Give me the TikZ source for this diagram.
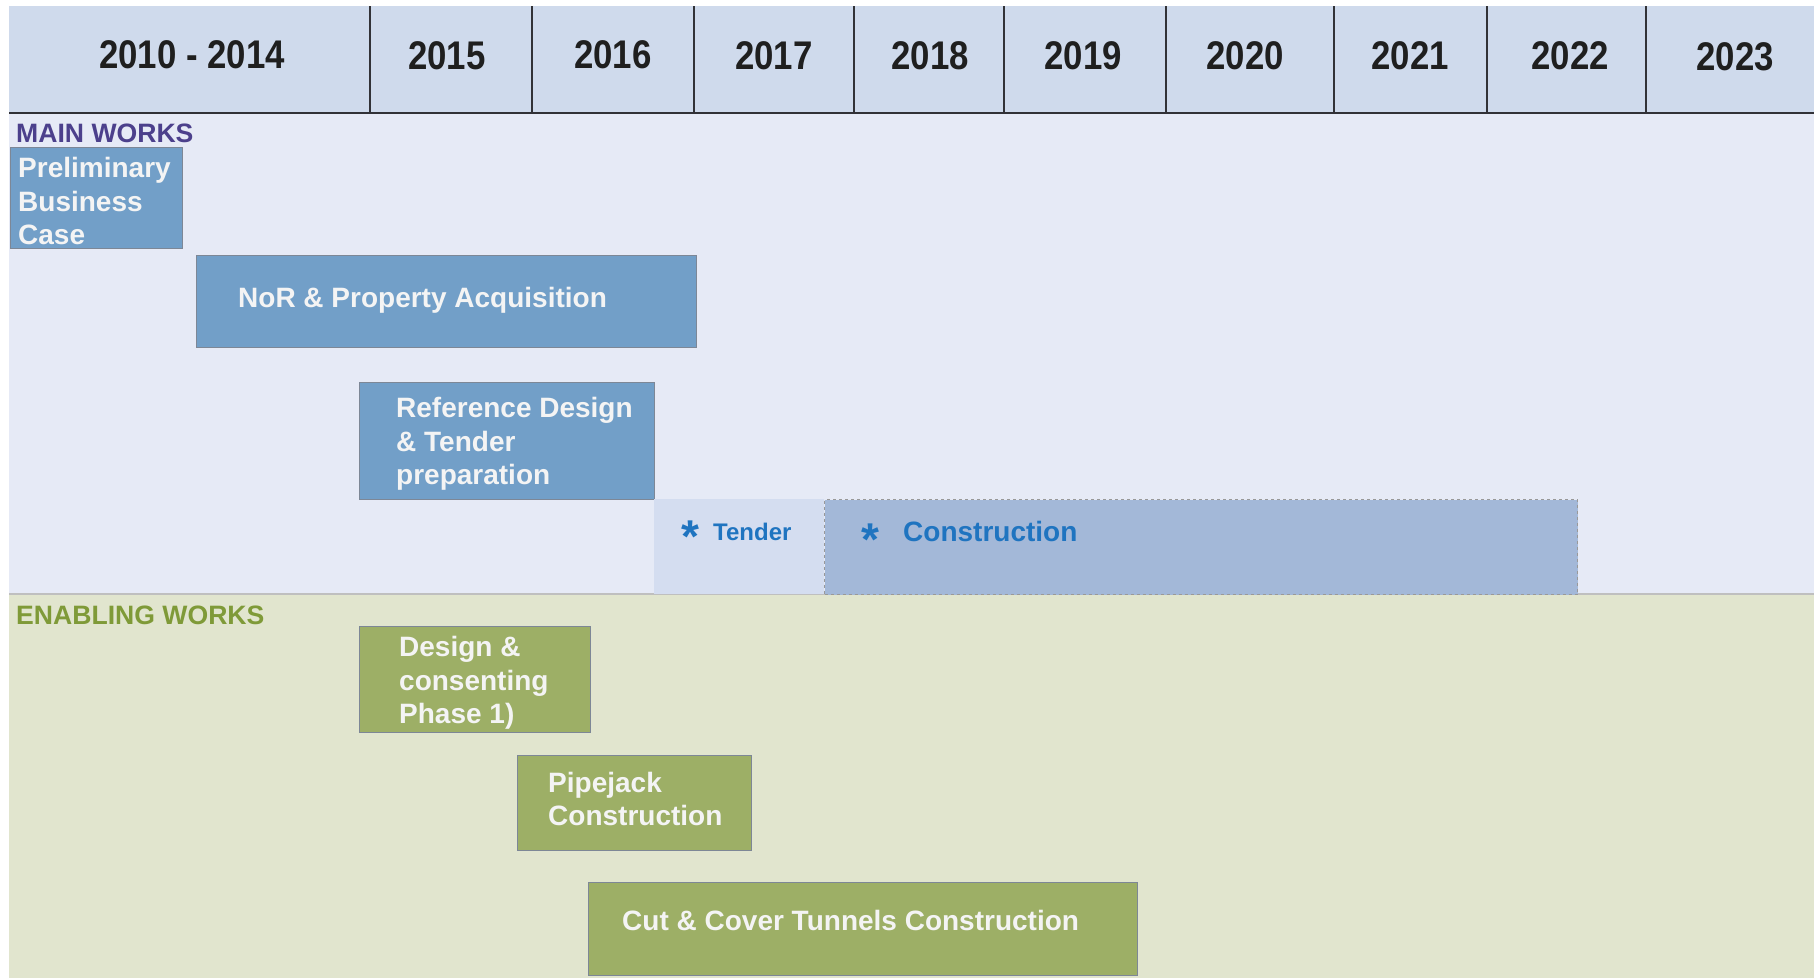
\documentclass[tikz,border=0pt]{standalone}
\usepackage{fontspec}
\setmainfont{Liberation Sans}
\newfontfamily\yearfont{Liberation Sans}[FakeStretch=0.87]
\definecolor{hdr}{RGB}{207,218,236}
\definecolor{hdrline}{RGB}{50,50,55}
\definecolor{mainbg}{RGB}{230,234,246}
\definecolor{enabg}{RGB}{225,229,206}
\definecolor{bluebox}{RGB}{114,159,200}
\definecolor{greenbox}{RGB}{157,175,102}
\definecolor{tenderbg}{RGB}{212,221,240}
\definecolor{constrbg}{RGB}{163,184,216}
\definecolor{boxline}{RGB}{125,135,150}
\definecolor{mainlbl}{RGB}{76,64,140}
\definecolor{enalbl}{RGB}{127,154,56}
\definecolor{tendertxt}{RGB}{31,116,192}
\definecolor{boxtxt}{RGB}{244,244,244}
\tikzset{
  year/.style={font=\yearfont\bfseries\fontsize{40}{40}\selectfont, text=black!88, inner sep=0pt},
  section/.style={font=\bfseries\fontsize{26.6}{30}\selectfont, inner sep=0pt, anchor=west},
  bar/.style={draw=boxline, line width=1.3pt, inner sep=0pt, anchor=north west},
  bluebar/.style={bar, fill=bluebox},
  greenbar/.style={bar, fill=greenbox},
  bartext/.style={font=\bfseries\fontsize{28}{33.6}\selectfont, text=boxtxt, align=left, inner sep=0pt, anchor=west},
  tendertext/.style={font=\bfseries\fontsize{24}{28}\selectfont, text=tendertxt, inner sep=0pt, anchor=base west},
  constrtext/.style={font=\bfseries\fontsize{28}{33}\selectfont, text=tendertxt, inner sep=0pt, anchor=base west}
}
\newcommand{\lowstar}[1]{\llap{\raisebox{-0.5em}{\fontsize{46}{46}\selectfont *}\hspace{#1}}}
\begin{document}
\begin{tikzpicture}[x=1pt,y=-1pt]
\useasboundingbox (0,0) rectangle (1814,978);
\fill[white] (0,0) rectangle (1814,978);
% bands
\fill[mainbg] (9,113) rectangle (1814,594);
\fill[enabg] (9,594) rectangle (1814,978);
\draw[line width=1.3pt, black!25] (9,594) -- (1814,594);
% header
\fill[hdr] (9,6) rectangle (1814,113);
\foreach \x in {370,532,694,854,1004,1166,1334,1487,1646}
  \draw[line width=1.3pt, hdrline] (\x,6) -- (\x,113);
\draw[line width=1.5pt, hdrline] (9,113) -- (1814,113);
\node[year] (y1014) at (192,55) {2010 - 2014};
\node[year] (y15) at (447,56) {2015};
\node[year] (y16) at (613,55) {2016};
\node[year] (y17) at (774,56) {2017};
\node[year] (y18) at (930,56) {2018};
\node[year] (y19) at (1083,56) {2019};
\node[year] (y20) at (1245,56) {2020};
\node[year] (y21) at (1410,56) {2021};
\node[year] (y22) at (1570,56) {2022};
\node[year] (y23) at (1735,57) {2023};
% section labels
\node[section, text=mainlbl] (mainlbl) at (16,133) {MAIN WORKS};
\node[section, text=enalbl] (enalbl) at (16,615) {ENABLING WORKS};
% main works bars
\node[bluebar, minimum width=172pt, minimum height=101pt] (pbc) at (10,147) {};
\node[bartext] (pbct) at (18,201) {Preliminary\\Business\\Case};
\node[bluebar, minimum width=500pt, minimum height=92pt] (nor) at (196,255) {};
\node[bartext] (nort) at (238,300) {NoR \& Property Acquisition};
\node[bluebar, minimum width=295pt, minimum height=117pt] (ref) at (359,382) {};
\node[bartext] (reft) at (396,444) {Reference Design\\\& Tender\\preparation};
\node[fill=tenderbg, inner sep=0pt, anchor=north west, minimum width=170pt, minimum height=95pt] (tender) at (654,499) {};
\node[tendertext] (tendert) at (713,540) {\lowstar{14pt}Tender};
\node[fill=constrbg, draw=black!40, dashed, line width=1pt, inner sep=0pt, anchor=north west, minimum width=753pt, minimum height=95pt] (constr) at (824,499) {};
\node[constrtext] (constrt) at (903,541) {\lowstar{24pt}Construction};
% enabling works bars
\node[greenbar, minimum width=231pt, minimum height=106pt] (dc) at (359,626) {};
\node[bartext] (dct) at (399,683) {Design \&\\consenting\\Phase 1)};
\node[greenbar, minimum width=234pt, minimum height=95pt] (pj) at (517,755) {};
\node[bartext] (pjt) at (548,799) {Pipejack\\Construction};
\node[greenbar, minimum width=549pt, minimum height=93pt] (cc) at (588,882) {};
\node[bartext] (cct) at (622,920) {Cut \& Cover Tunnels Construction};
\end{tikzpicture}
\end{document}
